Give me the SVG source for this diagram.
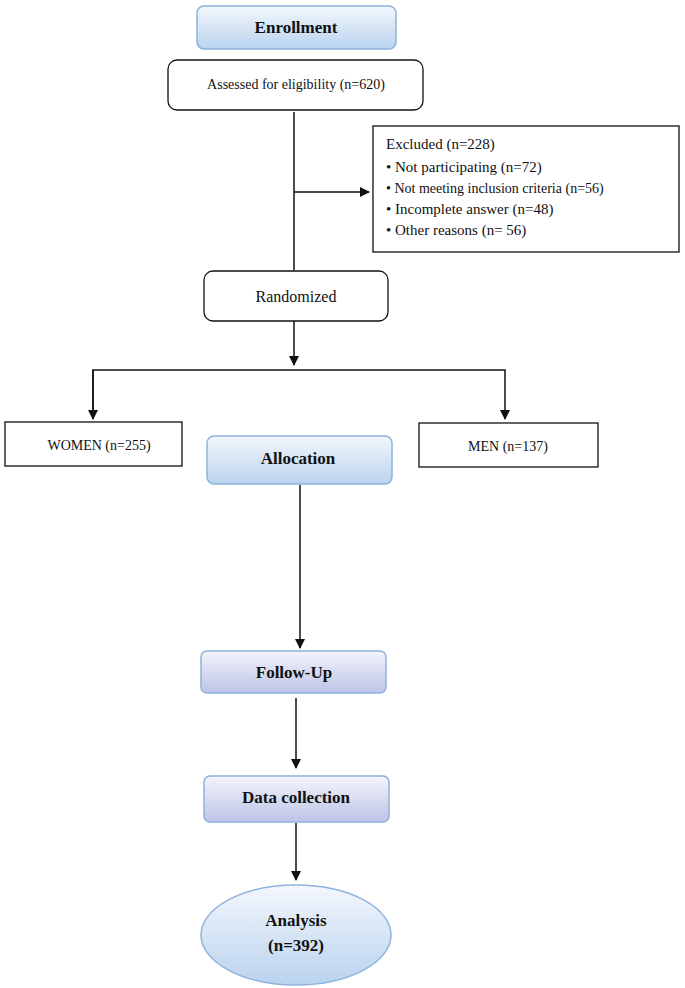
<svg xmlns="http://www.w3.org/2000/svg" width="685" height="988" viewBox="0 0 685 988">
<style>
.t{font-family:"Liberation Serif",serif;fill:#111}
.b{font-weight:bold;font-size:17px}
.hd{fill:url(#g);stroke:#8fb2dc;stroke-width:1.5}
.bx{fill:#fff;stroke:#111;stroke-width:1.3}
.ln{stroke:#111;stroke-width:1.5;fill:none}
</style>
<defs>
<linearGradient id="g" x1="0" y1="0" x2="0" y2="1"><stop offset="0" stop-color="#f4f7fd"/><stop offset="1" stop-color="#b9d3ee"/></linearGradient>
<linearGradient id="g2" x1="0" y1="0" x2="0" y2="1"><stop offset="0" stop-color="#f3f4fb"/><stop offset="1" stop-color="#bcc4e8"/></linearGradient>
<marker id="a" markerWidth="10" markerHeight="10" refX="9" refY="5" orient="auto" markerUnits="userSpaceOnUse"><path d="M0,0 L10,5 L0,10 z" fill="#111"/></marker>
</defs>
<g id="connectors">
<path class="ln" d="M294,112 V270"/>
<path class="ln" d="M294,192 H369" marker-end="url(#a)"/>
<path class="ln" d="M294,321 V365" marker-end="url(#a)"/>
<path class="ln" d="M93,419 V370 H505 V419" marker-end="url(#a)"/>
<path class="ln" d="M93,370 V419" marker-end="url(#a)"/>
<path class="ln" d="M300,485 V648" marker-end="url(#a)"/>
<path class="ln" d="M296,698 V768" marker-end="url(#a)"/>
<path class="ln" d="M296,823 V880" marker-end="url(#a)"/>
</g>
<g id="enrollment"><rect class="hd" x="197" y="6" width="199" height="43" rx="7"/><text class="t b" x="296" y="33" text-anchor="middle">Enrollment</text></g>
<g id="eligibility"><rect class="bx" x="168" y="60" width="255" height="50" rx="9"/><text class="t" x="296" y="89" font-size="14" text-anchor="middle">Assessed for eligibility (n=620)</text></g>
<g id="excluded"><rect class="bx" x="373" y="126" width="306" height="126"/>
<text class="t" x="386" y="149" font-size="15">Excluded (n=228)</text>
<text class="t" x="386" y="172" font-size="15">• Not participating (n=72)</text>
<text class="t" x="386" y="193" font-size="14">• Not meeting inclusion criteria (n=56)</text>
<text class="t" x="386" y="214" font-size="15">• Incomplete answer (n=48)</text>
<text class="t" x="386" y="235" font-size="15">• Other reasons (n= 56)</text></g>
<g id="randomized"><rect class="bx" x="204" y="271" width="184" height="50" rx="9"/><text class="t" x="296" y="302" font-size="16" text-anchor="middle">Randomized</text></g>
<g id="women"><rect class="bx" x="5" y="422" width="177" height="44"/><text class="t" x="99" y="450" font-size="14" text-anchor="middle">WOMEN (n=255)</text></g>
<g id="men"><rect class="bx" x="419" y="423" width="179" height="44"/><text class="t" x="508" y="451" font-size="14" text-anchor="middle">MEN (n=137)</text></g>
<g id="allocation"><rect class="hd" x="207" y="436" width="185" height="48" rx="7"/><text class="t b" x="298" y="464" text-anchor="middle">Allocation</text></g>
<g id="followup"><rect class="hd" x="201" y="651" width="185" height="42" rx="6" style="fill:url(#g2)"/><text class="t b" x="294" y="678" text-anchor="middle">Follow-Up</text></g>
<g id="datacollection"><rect class="hd" x="204" y="776" width="185" height="46" rx="6" style="fill:url(#g2)"/><text class="t b" x="296" y="803" text-anchor="middle">Data collection</text></g>
<g id="analysis"><ellipse class="hd" cx="296" cy="935" rx="95" ry="50"/><text class="t b" x="296" y="926" text-anchor="middle">Analysis</text><text class="t b" x="296" y="951" text-anchor="middle">(n=392)</text></g>
</svg>
